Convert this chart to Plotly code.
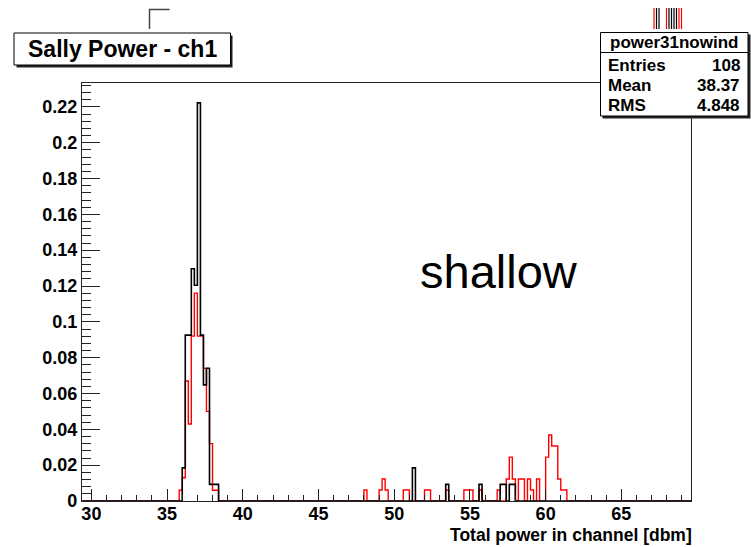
import numpy as np
import plotly.graph_objects as go

# ---------------- data ----------------
BIN_START = 29.4
BIN_WIDTH = 0.2
N_BINS = 201

# black histogram (power31nowind): bin low edge -> normalised content
black_bin_low = [36.0, 36.2, 36.4, 36.6, 36.8, 37.0, 37.2, 37.4, 37.6, 37.8, 38.0, 38.2,
                 51.2, 53.4, 55.6, 57.0, 57.2, 57.6, 57.8]
black_height = [0.0185, 0.0926, 0.0926, 0.1296, 0.1204, 0.2222, 0.0926, 0.0648, 0.0741, 0.0093, 0.0093, 0.0093,
                0.0185, 0.0093, 0.0093, 0.0093, 0.0093, 0.0093, 0.0093]

# red histogram
red_bin_low = [35.8, 36.0, 36.2, 36.4, 36.6, 36.8, 37.0, 37.2, 37.4, 37.6, 37.8, 38.0, 38.2,
               48.0, 49.0, 49.2, 49.4, 50.6, 50.8, 52.0, 52.2, 53.4, 54.6, 54.8, 55.0, 55.6,
               56.8, 57.4, 57.6, 57.8, 58.2, 58.4, 58.8, 59.0, 59.4,
               60.0, 60.2, 60.4, 60.6, 60.8, 61.0, 61.2]
red_height = [0.006, 0.013, 0.067, 0.043, 0.092, 0.116, 0.092, 0.092, 0.074, 0.050, 0.032, 0.006, 0.006,
              0.0061, 0.0061, 0.0123, 0.0061, 0.0061, 0.0061, 0.0061, 0.0061, 0.0061, 0.0061, 0.0061, 0.0061, 0.0061,
              0.0061, 0.0123, 0.0245, 0.0123, 0.0123, 0.0123, 0.0123, 0.0061, 0.0123,
              0.0245, 0.0368, 0.0307, 0.0307, 0.0123, 0.0061, 0.0061]

x_tick0, x_dtick, x_minor = 30, 5, 1
y_dtick, y_minor = 0.02, 0.004
X_RANGE = [29.38, 69.6]
Y_RANGE = [0, 0.2333]

title_text = "Sally Power - ch1"
stats_name = "power31nowind"
stats_rows = [("Entries", "108"), ("Mean", "38.37"), ("RMS", "4.848")]
x_title = "Total power in channel [dbm]"
note_text = "shallow"

# ---------------- figure geometry ----------------
W, H = 751, 547
L, R, T, B = 82, 60, 83, 46
PW, PH = W - L - R, H - T - B


def px(x):
    return (x - L) / PW


def py(y):
    return (H - B - y) / PH


def step_xy(lows, heights):
    edges = BIN_START + BIN_WIDTH * np.arange(N_BINS + 1)
    y = np.zeros(N_BINS)
    for lo, h in zip(lows, heights):
        y[int(round((lo - BIN_START) / BIN_WIDTH))] = h
    return edges, np.append(y, y[-1])


FONT = "Liberation Sans, Arial, Helvetica, sans-serif"

fig = go.Figure()
bx, by = step_xy(black_bin_low, black_height)
rx, ry = step_xy(red_bin_low, red_height)
fig.add_trace(go.Scatter(x=rx, y=ry, mode="lines", line=dict(color="#ff0000", width=1.4, shape="hv"),
                         hoverinfo="skip"))
fig.add_trace(go.Scatter(x=bx, y=by, mode="lines", line=dict(color="#000000", width=1.6, shape="hv"),
                         hoverinfo="skip"))

tickfont = dict(family=FONT, size=18, color="black", weight="bold")

fig.update_layout(
    width=W, height=H,
    margin=dict(l=L, r=R, t=T, b=B, pad=0),
    paper_bgcolor="white", plot_bgcolor="white",
    showlegend=False,
    xaxis=dict(range=X_RANGE, showgrid=False, zeroline=False, showline=True, mirror=True,
               linecolor="#222", linewidth=1.2, ticks="inside", tick0=x_tick0, dtick=x_dtick,
               ticklen=12, tickwidth=1, tickcolor="#222", tickfont=tickfont, ticklabelstandoff=-4,
               minor=dict(tick0=x_tick0, dtick=x_minor, ticks="inside", ticklen=6, tickwidth=1,
                          tickcolor="#222", showgrid=False)),
    yaxis=dict(range=Y_RANGE, showgrid=False, zeroline=False, showline=True, mirror=True,
               linecolor="#222", linewidth=1.2, ticks="inside", tick0=0, dtick=y_dtick,
               ticklen=18, tickwidth=1, tickcolor="#222", tickfont=tickfont,
               minor=dict(tick0=0, dtick=y_minor, ticks="inside", ticklen=9, tickwidth=1,
                          tickcolor="#222", showgrid=False)),
)

shapes = []
# small bracket above title
shapes.append(dict(type="path", xref="paper", yref="paper",
                   path=f"M {px(149.5)} {py(29)} L {px(149.5)} {py(9.5)} L {px(169.5)} {py(9.5)}",
                   line=dict(color="#444", width=1.5)))
# title box with shadow
shapes.append(dict(type="rect", xref="paper", yref="paper", x0=px(16.5), y0=py(35.5), x1=px(232.5), y1=py(67.5),
                   fillcolor="#222", line=dict(width=0)))
shapes.append(dict(type="rect", xref="paper", yref="paper", x0=px(14), y0=py(33), x1=px(230.5), y1=py(65),
                   fillcolor="white", line=dict(color="black", width=1)))
# stats box with shadow
shapes.append(dict(type="rect", xref="paper", yref="paper", x0=px(602.5), y0=py(34.5), x1=px(750.5), y1=py(118.5),
                   fillcolor="#222", line=dict(width=0)))
shapes.append(dict(type="rect", xref="paper", yref="paper", x0=px(600.5), y0=py(32.5), x1=px(748), y1=py(116),
                   fillcolor="white", line=dict(color="black", width=1)))
shapes.append(dict(type="line", xref="paper", yref="paper", x0=px(600.5), y0=py(52.5), x1=px(748), y1=py(52.5),
                   line=dict(color="black", width=1)))
# tiny coloured marks above stats box
mark_x = [654, 656.5, 659, 666.5, 669, 671.5, 674, 676.5, 679, 681.5]
mark_c = ["red", "black", "black", "red", "black", "black", "black", "black", "red", "red"]
for mx, mc in zip(mark_x, mark_c):
    shapes.append(dict(type="line", xref="paper", yref="paper", x0=px(mx), y0=py(8), x1=px(mx), y1=py(29),
                       line=dict(color=mc, width=1.2)))
fig.update_layout(shapes=shapes)

ann = []
ann.append(dict(text=title_text, x=px(122), y=py(49.5), xref="paper", yref="paper", showarrow=False,
                xanchor="center", yanchor="middle", font=dict(family=FONT, size=23, color="black", weight="bold")))
ann.append(dict(text=stats_name, x=px(674), y=py(43), xref="paper", yref="paper", showarrow=False,
                xanchor="center", yanchor="middle", font=dict(family=FONT, size=17, color="black", weight="bold")))
for (lab, val), yy in zip(stats_rows, [65, 85.5, 105]):
    ann.append(dict(text=lab, x=px(606), y=py(yy), xref="paper", yref="paper", showarrow=False,
                    xanchor="left", yanchor="middle", font=dict(family=FONT, size=17, color="black", weight="bold")))
    ann.append(dict(text=val, x=px(742), y=py(yy), xref="paper", yref="paper", showarrow=False,
                    xanchor="right", yanchor="middle", font=dict(family=FONT, size=17, color="black", weight="bold")))
ann.append(dict(text=x_title, x=px(694), y=py(535), xref="paper", yref="paper", showarrow=False,
                xanchor="right", yanchor="middle", font=dict(family=FONT, size=17.5, color="black", weight="bold")))
ann.append(dict(text=note_text, x=px(499), y=py(271), xref="paper", yref="paper", showarrow=False,
                xanchor="center", yanchor="middle", font=dict(family=FONT, size=47, color="black")))
fig.update_layout(annotations=ann)

fig.write_html("out.html", config={"displayModeBar": False},
               post_script="document.body.style.margin='0';document.body.style.overflow='hidden';")
